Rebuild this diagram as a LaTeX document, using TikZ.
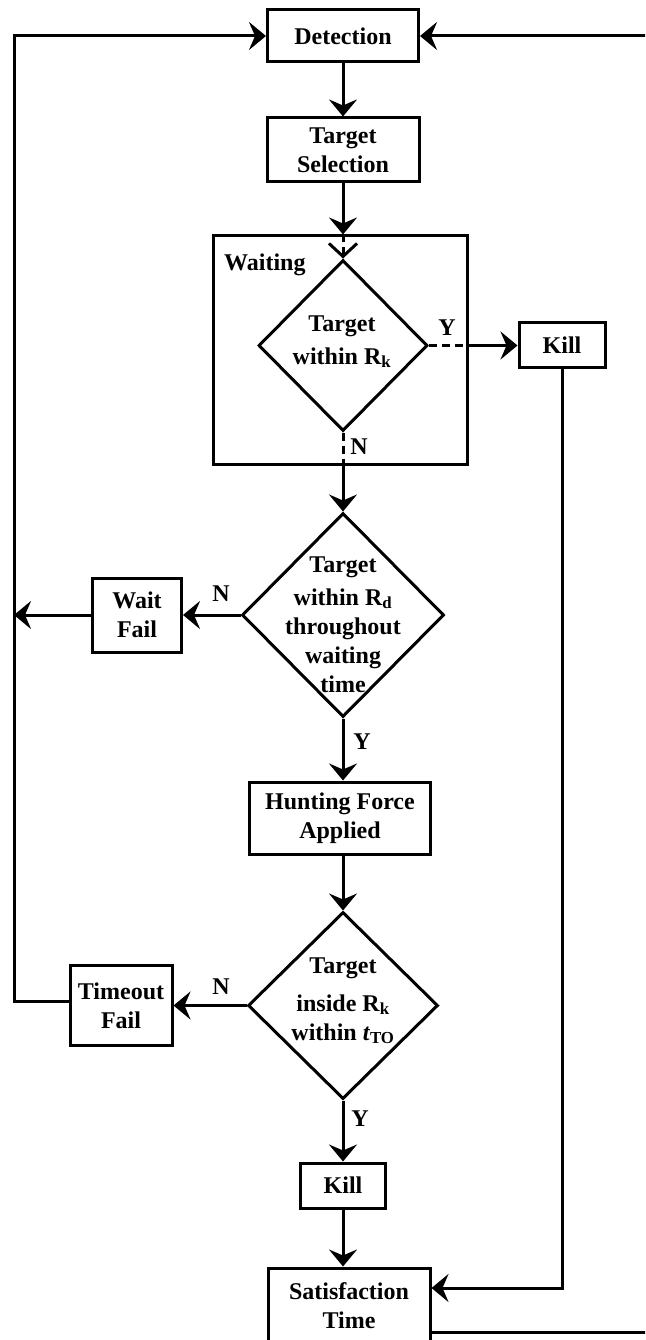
\documentclass[tikz,border=0pt]{standalone}
\usepackage{fontspec}
\setmainfont{Liberation Serif}
\usetikzlibrary{arrows.meta,shapes.geometric,calc}
\begin{document}
\begin{tikzpicture}[x=1pt,y=-1pt,
  every node/.style={font=\fontsize{24}{29}\selectfont\bfseries},
  box/.style={draw,line width=3pt,rectangle,inner sep=0pt,align=center},
  dia/.style={draw,line width=3pt,diamond,inner sep=0pt},
  arr/.style={line width=3pt,-{Stealth[length=17pt,width=28pt,inset=6pt]}},
  dsh/.style={line width=3pt,dash pattern=on 8pt off 5pt},
  barb/.style={-{Straight Barb[length=13pt,width=28pt,line width=3pt]}},
  lbl/.style={inner sep=0pt}]
\useasboundingbox (0,0) rectangle (645,1340);
\clip (0,0) rectangle (645,1340);
% boxes
\node[box,minimum width=151pt,minimum height=52pt] (det) at (343,36) {Detection};
\node[box,minimum width=152pt,minimum height=64pt] (sel) at (343,150) {Target\\Selection};
\node[box,minimum width=254pt,minimum height=228pt] (wbox) at (340,350) {};
\node[lbl,anchor=west] (wlab) at (224,265) {Waiting};
\node[dia,minimum width=169pt,minimum height=171pt] (d1) at (343,345.5) {};
\node[lbl,anchor=base] (d1t) at (342,331) {\begin{tabular}[t]{@{}c@{}}Target\\[4pt]within R\textsubscript{k}\end{tabular}};
\node[box,minimum width=86pt,minimum height=45pt] (k1) at (562,345) {Kill};
\node[dia,minimum width=202pt,minimum height=204pt] (d2) at (343,615) {};
\node[lbl,anchor=base] (d2t) at (343,572) {\begin{tabular}[t]{@{}c@{}}Target\\[4pt]within R\textsubscript{d}\\throughout\\waiting\\time\end{tabular}};
\node[box,minimum width=89pt,minimum height=74pt] (wf) at (137,615) {Wait\\Fail};
\node[box,minimum width=181pt,minimum height=72pt] (hf) at (340,818) {Hunting Force\\Applied};
\node[dia,minimum width=190pt,minimum height=187pt] (d3) at (343,1005.5) {};
\node[lbl,anchor=base] (d3t) at (343,973) {\begin{tabular}[t]{@{}c@{}}Target\\[9pt]inside R\textsubscript{k}\\within \textit{t}\textsubscript{TO}\end{tabular}};
\node[box,minimum width=102pt,minimum height=80pt] (tf) at (121,1005.5) {Timeout\\Fail};
\node[box,minimum width=85pt,minimum height=45pt] (k2) at (343,1185.5) {Kill};
\node[box,minimum width=162pt,minimum height=76pt] (sat) at (349,1306) {Satisfaction\\Time};
% labels
\node[lbl] (y1) at (447,328) {Y};
\node[lbl] (n1) at (359,447) {N};
\node[lbl] (n2) at (221,594) {N};
\node[lbl] (y2) at (362,742) {Y};
\node[lbl] (n3) at (221,987) {N};
\node[lbl] (y3) at (360,1119) {Y};
% helper coordinates
\coordinate (lx) at (14,36);
\coordinate (rx) at (660,36);
% connectors
\draw[arr] (det) -- (sel);
\draw[arr] (sel.south) -- (sel.south |- wbox.north);
\draw[dsh,barb] (sel.south |- wbox.north) -- (d1.north);
\draw[dsh] (d1.east) -- (d1.east -| wbox.east);
\draw[arr] (d1.east -| wbox.east) -- (d1.east -| k1.west);
\draw[dsh] (d1.south) -- (d1.south |- wbox.south);
\draw[arr] (d1.south |- wbox.south) -- (d2.north);
\draw[arr] (d2.west) -- (wf.east);
\draw[arr] (wf.west) -- (wf.west -| lx);
\draw[arr] (d2.south) -- (d2.south |- hf.north);
\draw[arr] (hf.south -| d3.north) -- (d3.north);
\draw[arr] (d3.west) -- (tf.east);
\draw[arr] ([yshift=4pt]tf.west) -| (lx) -- (det.west);
\draw[arr] (d3.south) -- (k2.north);
\draw[arr] (k2.south) -- (k2.south |- sat.north);
\draw[arr] (k1.south) |- ([yshift=18pt]sat.east);
\draw[arr] ([yshift=-26pt]sat.east) -| (rx) -- (det.east);
\end{tikzpicture}
\end{document}
